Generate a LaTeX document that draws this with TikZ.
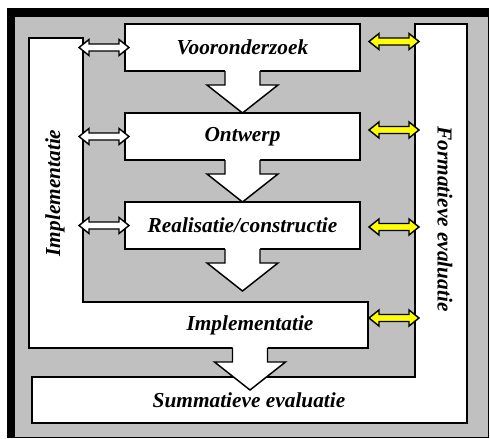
\documentclass[tikz,border=0pt]{standalone}
\usepackage{fontspec}
\setmainfont{Liberation Serif}
\usetikzlibrary{calc}

\definecolor{panelgray}{RGB}{192,192,192}
\definecolor{signalyellow}{RGB}{255,255,0}

\tikzset{
  outline/.style={draw=black, line width=1.1pt, line join=miter},
  plate/.style={outline, fill=white},
  stagebox/.style={plate, minimum width=176.25pt, minimum height=35.25pt, inner sep=0pt, outer sep=0pt},
  caption/.style={font=\fontsize{16}{19}\selectfont\bfseries\itshape, inner sep=0.75pt},
  linkarrow/.style={outline, fill=white},
  feedarrow/.style={outline, fill=signalyellow},
}

% double headed arrow, tip to tip
\newcommand{\dblarrow}[3][]{%
  \draw[#1] (#2) -- ++(10,-8) -- ++(0,4.5) -- ($(#3)+(-10,-3.5)$) -- ++(0,-4.5) -- (#3)
    -- ++(-10,8) -- ++(0,-4.5) -- ($(#2)+(10,3.5)$) -- ++(0,4.5) -- cycle;}

% broad arrow hanging below a box
\newcommand{\blockarrow}[1]{%
  \fill[white] (#1) ++(-17.5,-1.5) -- ++(0,15.5) -- ++(-18,0) -- ++(35.5,28) -- ++(35.5,-28) -- ++(-18,0) -- ++(0,-15.5) -- cycle;
  \draw[outline] (#1) ++(-17.5,0) -- ++(0,14) -- ++(-18,0) -- ++(35.5,28) -- ++(35.5,-28) -- ++(-18,0) -- ++(0,-14);}

\begin{document}
\begin{tikzpicture}[x=0.75pt,y=0.75pt,yscale=-1,xscale=1]
\useasboundingbox (0,0) rectangle (490,439);

%Shape: Frame
\fill[white] (0,0) rectangle (490,439);
\fill[panelgray] (7,8) rectangle (489,437.5);
\draw[line width=0.6pt] (488.5,8) -- (488.5,437.5) -- (7,437.5);
\fill[black] (7,8) rectangle (489,17);
\fill[black] (7,8) rectangle (15,437.5);

%Shape: Formatieve bar with Summatieve base
\draw[plate] (415,24) -- (467,24) -- (467,423) -- (32,423) -- (32,377) -- (415,377) -- cycle;
%Shape: Implementatie bar
\draw[plate] (29,38) -- (83,38) -- (83,302) -- (368,302) -- (368,348) -- (29,348) -- cycle;

% Stage boxes
\node[stagebox, caption] (voor) at (242.5,47.5) {Vooronderzoek};
\node[stagebox, caption] (ontw) at (242.5,136.5) {Ontwerp};
\node[stagebox, caption] (real) at (242.5,225.5) {Realisatie/constructie};
\coordinate (implfoot) at (250,348);

% Broad arrows
\blockarrow{voor.south}
\blockarrow{ontw.south}
\blockarrow{real.south}
\blockarrow{implfoot}

% White arrows to the Implementatie bar
\foreach \b in {voor,ontw,real}{
  \coordinate (\b-l) at ($(\b.west)+(-46,0)$);
  \coordinate (\b-r) at ($(\b.west)+(4,0)$);
  \dblarrow[linkarrow]{\b-l}{\b-r}
}

% Yellow arrows to the Formatieve bar
\foreach \y [count=\i] in {41.5,130,227,318}{
  \coordinate (fb\i) at (415,\y);
  \coordinate (fa\i) at ($(fb\i)+(-46,0)$);
  \coordinate (fc\i) at ($(fb\i)+(4,0)$);
  \dblarrow[feedarrow]{fa\i}{fc\i}
}

% Text Node
\node[caption] (impl) at (250,325) {Implementatie};
% Text Node
\node[caption] (summ) at (249,400) {Summatieve evaluatie};
% Text Node
\node[caption, rotate=90] (impltxt) at (55,193) {Implementatie};
% Text Node
\node[caption, rotate=-90] (formtxt) at (445,219) {Formatieve evaluatie};

\end{tikzpicture}
\end{document}
